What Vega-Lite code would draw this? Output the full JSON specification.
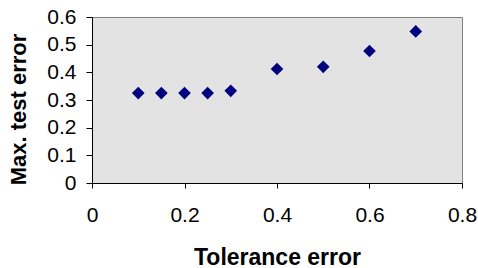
{
  "$schema": "https://vega.github.io/schema/vega-lite/v6.json",
  "width": 370,
  "height": 166,
  "autosize": {"type": "none"},
  "padding": {"left": 92, "top": 17, "right": 16, "bottom": 85},
  "background": "white",
  "config": {
    "view": {"fill": "#e3e3e3", "stroke": "#808080", "strokeWidth": 1},
    "font": "Liberation Sans"
  },
  "data": {
    "values": [
      {"tol": 0.1, "err": 0.325},
      {"tol": 0.15, "err": 0.325},
      {"tol": 0.2, "err": 0.325},
      {"tol": 0.25, "err": 0.325},
      {"tol": 0.3, "err": 0.333},
      {"tol": 0.4, "err": 0.412},
      {"tol": 0.5, "err": 0.42},
      {"tol": 0.6, "err": 0.477},
      {"tol": 0.7, "err": 0.548}
    ]
  },
  "mark": {"type": "point", "shape": "diamond", "filled": true, "size": 160, "color": "#000080", "opacity": 1},
  "encoding": {
    "x": {
      "field": "tol", "type": "quantitative",
      "scale": {"domain": [0, 0.8], "nice": false, "zero": true},
      "axis": {
        "title": "Tolerance error", "values": [0, 0.2, 0.4, 0.6, 0.8], "format": "~g",
        "grid": false, "domainColor": "black", "domainWidth": 1, "tickColor": "black", "tickSize": 5,
        "labelFont": "Liberation Sans", "labelFontSize": 21, "labelColor": "black", "labelPadding": 16,
        "labelFlush": false, "labelOverlap": false,
        "titleFont": "Liberation Sans", "titleFontSize": 23, "titleFontWeight": "bold", "titleColor": "black",
        "titleBaseline": "alphabetic", "titleY": 81
      }
    },
    "y": {
      "field": "err", "type": "quantitative",
      "scale": {"domain": [0, 0.6], "nice": false},
      "axis": {
        "title": "Max. test error", "values": [0, 0.1, 0.2, 0.3, 0.4, 0.5, 0.6], "format": "~g",
        "grid": false, "domainColor": "black", "domainWidth": 1, "tickColor": "black", "tickSize": 6,
        "labelFont": "Liberation Sans", "labelFontSize": 21, "labelColor": "black", "labelPadding": 10,
        "labelFlush": false, "labelOverlap": false,
        "titleFont": "Liberation Sans", "titleFontSize": 22, "titleFontWeight": "bold", "titleColor": "black",
        "titleBaseline": "alphabetic", "titleX": -67, "titleY": 92
      }
    }
  }
}
